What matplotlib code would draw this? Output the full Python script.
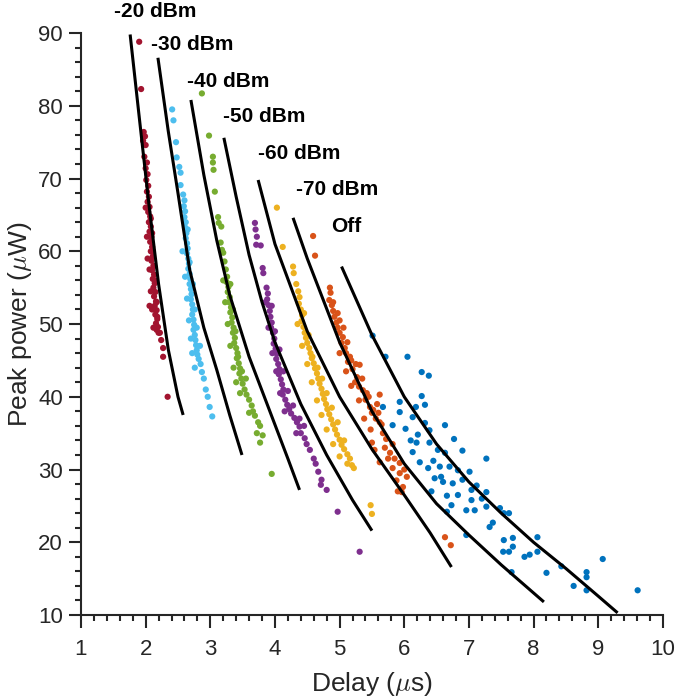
import matplotlib
matplotlib.use("Agg")
import matplotlib.pyplot as plt
from matplotlib.ticker import MultipleLocator

plt.rcParams['font.family'] = ['Liberation Sans', 'DejaVu Sans']
plt.rcParams['mathtext.fontset'] = 'cm'

# ---- colours (MATLAB default order) ----
c_off = '#0072BD'
c_70 = '#D95319'
c_60 = '#EDB120'
c_50 = '#7E2F8E'
c_40 = '#77AC30'
c_30 = '#4DBEEE'
c_20 = '#A2142F'

# ---- fitted curves (black) ----
curve20_x = [1.76, 1.90, 2.05, 2.20, 2.35, 2.50, 2.58]
curve20_y = [89.8, 78.5, 66.5, 55.5, 46.5, 40.0, 37.5]

curve30_x = [2.19, 2.35, 2.50, 2.68, 2.90, 3.10, 3.30, 3.49]
curve30_y = [86.6, 76.5, 68.0, 57.5, 49.5, 43.7, 37.5, 32.0]

curve40_x = [2.70, 2.90, 3.10, 3.30, 3.60, 3.90, 4.20, 4.38]
curve40_y = [80.8, 70.5, 61.5, 54.0, 45.5, 38.5, 31.5, 27.2]

curve50_x = [3.21, 3.40, 3.60, 3.80, 4.00, 4.40, 4.80, 5.20, 5.50]
curve50_y = [75.6, 67.5, 59.5, 53.0, 47.5, 39.0, 32.0, 25.8, 21.6]

curve60_x = [3.74, 4.00, 4.50, 5.00, 5.50, 6.00, 6.40, 6.73]
curve60_y = [69.8, 61.0, 49.0, 40.0, 32.8, 26.5, 21.3, 16.6]

curve70_x = [4.28, 4.50, 5.00, 5.50, 6.00, 6.50, 7.00, 7.50, 8.16]
curve70_y = [64.6, 59.0, 47.5, 38.0, 30.8, 25.3, 21.0, 16.9, 11.8]

curveoff_x = [5.03, 5.50, 6.00, 6.50, 7.00, 7.50, 8.00, 8.50, 9.00, 9.30]
curveoff_y = [57.9, 48.5, 40.0, 33.5, 28.3, 24.0, 20.0, 16.4, 12.6, 10.3]

# ---- measured points ----
pts20_x = [1.90, 1.93, 1.97, 1.99, 1.96, 2.00, 1.98, 2.02, 2.00, 2.03, 2.01, 2.04,
           2.02, 2.05, 2.03, 2.06, 2.04, 2.07, 2.05, 2.08, 2.06, 2.09, 2.07, 2.10,
           2.08, 2.11, 2.09, 2.12, 2.10, 2.13, 2.11, 2.14, 2.12, 2.15, 2.13, 2.16,
           2.14, 2.17, 2.15, 2.18, 2.16, 2.19, 2.17, 2.20, 2.22, 2.24, 2.27, 2.27, 2.34,
           2.08, 2.10, 2.11, 2.13, 2.06, 2.15, 2.08, 2.17, 2.10, 2.18, 2.02, 2.00,
           2.03, 2.06, 2.12]
pts20_y = [88.8, 82.3, 76.4, 75.8, 75.2, 74.6, 73.0, 72.2, 71.4, 70.6, 69.8, 69.0,
           68.2, 67.5, 66.8, 66.1, 65.4, 64.8, 64.0, 63.4, 62.7, 62.0, 61.3, 60.6,
           60.0, 59.3, 58.7, 58.0, 57.4, 56.8, 56.2, 55.6, 55.0, 54.4, 53.8, 53.1,
           52.5, 51.9, 51.3, 50.7, 50.1, 49.6, 49.2, 48.8, 48.8, 47.8, 46.7, 45.5, 40.0,
           64.5, 62.5, 60.0, 58.0, 57.5, 56.0, 54.5, 53.0, 52.0, 51.0, 62.0, 66.0,
           59.0, 52.5, 49.5]

pts30_x = [2.41, 2.43, 2.47, 2.48, 2.52, 2.54, 2.54, 2.58, 2.60, 2.59, 2.61, 2.60,
           2.62, 2.61, 2.63, 2.62, 2.64, 2.65, 2.64, 2.66, 2.67, 2.66, 2.68, 2.69,
           2.68, 2.70, 2.71, 2.70, 2.72, 2.73, 2.72, 2.74, 2.75, 2.74, 2.76, 2.77,
           2.78, 2.79, 2.80, 2.82, 2.85, 2.87, 2.90, 2.93, 2.96, 2.99, 3.03,
           2.65, 2.57, 2.68, 2.61, 2.73, 2.64, 2.76, 2.67, 2.79, 2.70, 2.72, 2.84, 2.76]
pts30_y = [79.5, 78.0, 75.0, 72.9, 71.6, 70.8, 69.1, 67.8, 67.0, 66.2, 65.5, 64.7,
           64.0, 63.3, 62.5, 61.8, 61.1, 60.4, 59.7, 59.0, 58.3, 57.6, 56.9, 56.2,
           55.5, 54.8, 54.1, 53.4, 52.7, 52.0, 51.3, 50.6, 49.9, 49.2, 48.5, 47.8,
           47.1, 46.4, 45.8, 45.2, 44.5, 43.4, 42.5, 41.0, 40.0, 38.6, 37.3,
           63.0, 60.0, 58.5, 56.5, 55.5, 53.5, 52.0, 50.5, 49.5, 48.0, 46.0, 47.0, 44.0]

pts40_x = [2.87, 2.98, 3.04, 3.04, 3.05, 3.07, 3.12, 3.13, 3.17, 3.16, 3.18, 3.20,
           3.22, 3.24, 3.26, 3.25, 3.28, 3.27, 3.30, 3.29, 3.32, 3.31, 3.34, 3.33,
           3.36, 3.35, 3.38, 3.37, 3.40, 3.42, 3.41, 3.44, 3.46, 3.45, 3.48, 3.50,
           3.53, 3.56, 3.60, 3.64, 3.66, 3.69, 3.74, 3.77, 3.72, 3.81, 3.77, 3.95,
           3.20, 3.31, 3.23, 3.35, 3.27, 3.39, 3.31, 3.43, 3.36, 3.49, 3.40, 3.55,
           3.46, 3.60]
pts40_y = [81.7, 75.9, 73.0, 72.2, 71.2, 68.2, 64.7, 63.9, 63.4, 61.2, 60.2, 59.8,
           58.6, 57.5, 56.5, 55.8, 55.1, 54.4, 53.7, 53.0, 52.3, 51.6, 50.9, 50.2,
           49.5, 48.8, 48.1, 47.4, 46.7, 46.0, 45.3, 44.6, 43.9, 43.2, 42.5, 41.8,
           41.0, 40.3, 39.6, 38.8, 38.0, 37.4, 36.5, 36.0, 35.0, 34.7, 33.7, 29.4,
           56.0, 55.5, 53.0, 52.0, 50.0, 49.0, 47.0, 45.5, 44.0, 43.5, 42.0, 42.5,
           40.5, 37.8]

pts50_x = [3.69, 3.70, 3.72, 3.71, 3.78, 3.81, 3.82, 3.87, 3.89, 3.88, 3.90, 3.92,
           3.93, 3.95, 3.94, 3.97, 3.99, 3.98, 4.01, 4.03, 4.02, 4.05, 4.07, 4.06,
           4.09, 4.11, 4.13, 4.12, 4.16, 4.19, 4.22, 4.25, 4.30, 4.34, 4.38, 4.40,
           4.46, 4.49, 4.54, 4.60, 4.63, 4.67, 4.72, 4.71, 4.80, 4.97, 5.31,
           3.85, 3.95, 3.90, 4.00, 3.96, 4.07, 4.02, 4.13, 4.08, 4.20, 4.15, 4.28,
           4.38, 4.45, 4.33]
pts50_y = [63.9, 63.0, 62.0, 60.9, 60.8, 57.7, 57.0, 55.0, 54.2, 53.4, 52.6, 51.8,
           51.0, 50.2, 49.5, 48.8, 48.0, 47.3, 46.6, 45.9, 45.2, 44.5, 43.8, 43.1,
           42.4, 41.7, 41.0, 40.3, 39.6, 38.9, 38.3, 37.7, 37.1, 36.5, 35.9, 35.0,
           34.3, 33.5, 32.7, 31.5, 30.8, 29.7, 28.6, 27.9, 27.2, 24.2, 18.7,
           53.0, 52.5, 49.5, 49.0, 46.0, 46.5, 43.5, 43.5, 40.5, 40.8, 38.0, 38.8,
           37.0, 36.0, 35.0]

pts60_x = [4.03, 4.12, 4.28, 4.29, 4.33, 4.36, 4.38, 4.37, 4.40, 4.42, 4.41, 4.44,
           4.46, 4.48, 4.50, 4.53, 4.55, 4.57, 4.60, 4.62, 4.65, 4.67, 4.69, 4.72,
           4.74, 4.76, 4.79, 4.81, 4.84, 4.87, 4.90, 4.93, 4.96, 5.00, 5.03, 5.07,
           5.12, 5.16, 5.19, 5.22, 5.48, 5.50,
           4.45, 4.35, 4.52, 4.42, 4.58, 4.50, 4.66, 4.57, 4.73, 4.65, 4.80, 4.72,
           4.88, 4.80, 4.97, 4.90, 5.07, 5.00, 5.12]
pts60_y = [66.0, 60.6, 57.9, 57.0, 55.5, 54.5, 53.7, 52.8, 52.0, 51.2, 50.4, 49.6,
           48.8, 48.1, 47.4, 46.7, 46.0, 45.3, 44.6, 43.9, 43.2, 42.5, 41.8, 41.1,
           40.4, 39.7, 39.0, 38.3, 37.6, 36.9, 36.2, 35.5, 34.8, 34.1, 33.4, 32.8,
           32.1, 31.5, 30.6, 30.2, 25.1, 23.9,
           51.5, 50.0, 48.5, 47.0, 45.5, 44.5, 44.0, 42.0, 42.5, 39.5, 40.5, 37.5,
           38.5, 35.5, 36.5, 33.5, 34.0, 31.8, 30.8]

pts70_x = [4.59, 4.62, 4.85, 4.86, 4.84, 4.88, 4.90, 4.92, 4.95, 4.97, 5.00, 5.05,
           5.03, 5.08, 5.10, 5.16, 5.13, 5.31, 5.20, 5.27, 5.24, 5.30, 5.36, 5.42,
           5.62, 5.40, 5.47, 5.52, 5.50, 5.60, 5.56, 5.65, 5.67, 5.72, 5.50, 5.54,
           5.78, 5.75, 5.93, 5.82, 5.93, 6.04, 5.98, 5.96, 6.63, 6.72,
           4.90, 4.97, 5.00, 5.06, 5.12, 5.00, 5.18, 5.10, 5.25, 5.18, 5.35, 5.30,
           5.45, 5.38, 5.58, 5.62, 5.48, 5.70, 5.62, 5.85, 5.88, 6.00, 5.90, 5.82]
pts70_y = [62.1, 59.4, 55.0, 54.3, 53.3, 52.6, 51.8, 51.0, 50.2, 49.5, 48.8, 48.2,
           47.4, 46.7, 46.0, 45.5, 44.8, 44.4, 43.8, 42.7, 42.0, 41.4, 40.9, 40.5,
           40.3, 39.6, 38.6, 38.2, 37.8, 37.8, 37.0, 36.2, 35.0, 34.2, 33.7, 32.7,
           32.3, 31.5, 30.9, 30.2, 29.5, 29.0, 27.6, 26.9, 20.7, 19.6,
           53.0, 51.5, 50.5, 49.5, 47.5, 46.0, 45.0, 43.5, 44.5, 41.5, 42.5, 39.5,
           40.0, 37.0, 39.0, 36.5, 35.5, 33.0, 31.0, 31.5, 28.5, 30.0, 27.0, 33.5]

ptsoff_x = [5.51, 5.71, 6.05, 6.27, 6.38, 6.27, 6.32, 5.67, 5.93, 5.93, 6.18, 5.82,
            6.13, 6.32, 6.39, 6.21, 6.63, 6.77, 6.19, 6.39, 6.13, 6.52, 6.63, 6.90,
            6.37, 6.55, 6.70, 6.83, 7.01, 6.47, 6.90, 6.60, 6.75, 6.83, 7.04, 6.66,
            7.27, 7.27, 6.73, 6.66, 6.96, 7.04, 7.09, 7.27, 7.32, 7.48, 7.54, 7.62,
            6.96, 7.37, 7.54, 7.68, 7.53, 7.62, 7.68, 7.86, 7.94, 8.06, 8.06, 7.66,
            8.20, 8.43, 8.62, 8.82, 8.82, 8.82, 9.07, 9.61, 6.02, 6.10, 6.45, 6.57,
            7.12, 7.20, 6.24, 6.42]
ptsoff_y = [48.4, 45.5, 45.5, 43.4, 42.9, 40.1, 38.9, 38.6, 39.3, 37.9, 38.6, 36.1,
            37.2, 36.4, 35.4, 34.8, 36.1, 34.2, 33.7, 33.7, 32.4, 32.7, 32.3, 32.6,
            30.2, 30.4, 30.4, 29.9, 29.7, 28.8, 28.6, 28.3, 28.1, 26.5, 27.2, 26.4,
            31.5, 26.9, 25.1, 24.2, 24.4, 25.8, 24.4, 24.9, 22.1, 24.7, 24.0, 24.0,
            21.0, 22.7, 20.3, 20.6, 18.7, 18.7, 19.4, 18.0, 18.3, 20.7, 18.7, 15.9,
            15.8, 16.7, 14.0, 15.9, 15.2, 13.4, 17.7, 13.4, 35.6, 34.0, 31.2, 29.0,
            27.8, 26.0, 31.0, 27.0]

labels = ['-20 dBm', '-30 dBm', '-40 dBm', '-50 dBm', '-60 dBm', '-70 dBm', 'Off']
label_x = [2.14, 2.72, 3.27, 3.84, 4.38, 4.96, 5.10]
label_y = [93.0, 88.4, 83.3, 78.5, 73.4, 68.5, 63.4]

# ---- figure ----
fig = plt.figure(figsize=(6.75, 6.97), dpi=100)
ax = fig.add_axes([0.120, 0.1176, 0.862, 0.835])

series = [
    (pts20_x, pts20_y, c_20), (pts30_x, pts30_y, c_30), (pts40_x, pts40_y, c_40),
    (pts50_x, pts50_y, c_50), (pts60_x, pts60_y, c_60), (pts70_x, pts70_y, c_70),
    (ptsoff_x, ptsoff_y, c_off),
]
for xs, ys, col in series:
    ax.scatter(xs, ys, s=20, color=col, edgecolors='none', zorder=2)

curves = [
    (curve20_x, curve20_y), (curve30_x, curve30_y), (curve40_x, curve40_y),
    (curve50_x, curve50_y), (curve60_x, curve60_y), (curve70_x, curve70_y),
    (curveoff_x, curveoff_y),
]
for xs, ys in curves:
    ax.plot(xs, ys, color='black', linewidth=2.2, solid_capstyle='butt', zorder=3)

for txt, lx, ly in zip(labels, label_x, label_y):
    ax.text(lx, ly, txt, fontsize=15, fontweight='bold', ha='center', va='center',
            clip_on=False)

ax.set_xlim(1, 10)
ax.set_ylim(10, 90)
ax.xaxis.set_major_locator(MultipleLocator(1))
ax.xaxis.set_minor_locator(MultipleLocator(0.2))
ax.yaxis.set_major_locator(MultipleLocator(10))
ax.yaxis.set_minor_locator(MultipleLocator(2))

ax.spines['top'].set_visible(False)
ax.spines['right'].set_visible(False)
for sp in ['left', 'bottom']:
    ax.spines[sp].set_linewidth(1.5)
    ax.spines[sp].set_color('#262626')

ax.tick_params(which='major', direction='out', length=9, width=1.5,
               colors='#262626', labelsize=16, labelcolor='#262626')
ax.tick_params(which='minor', direction='out', length=4.5, width=1.5, colors='#262626')
ax.tick_params(axis='x', which='major', pad=8)
ax.tick_params(axis='y', which='major', pad=4)

ax.set_xlabel(r'Delay ($\mu$s)', fontsize=19, color='#262626')
ax.set_ylabel(r'Peak power ($\mu$W)', fontsize=19, color='#262626')
ax.xaxis.set_label_coords(0.5, -0.095)
ax.yaxis.set_label_coords(-0.08, 0.5)

fig.savefig('out.png', dpi=100)
